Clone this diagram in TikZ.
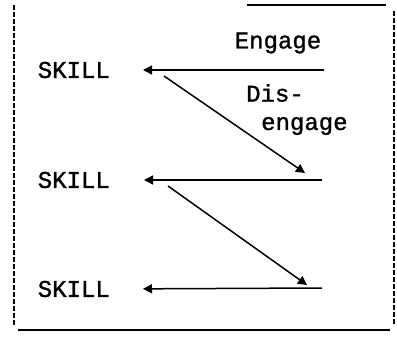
\documentclass[tikz,border=0pt]{standalone}
\usepackage{fontspec}
\newfontfamily\typefont{Liberation Mono}[FakeBold=1.2]
\usepackage{tikz}
\usetikzlibrary{arrows.meta}
\tikzstyle{label} = [inner sep=0pt, font=\typefont\fontsize{24}{26}\selectfont]
\tikzstyle{skill} = [label, anchor=east]
\tikzstyle{arrow} = [line width=1.5pt,-{Triangle[length=9pt,width=9pt]}]
\tikzstyle{frame} = [line width=1.7pt]

\begin{document}
\begin{tikzpicture}[x=1pt,y=-1pt]
\useasboundingbox (0,0) rectangle (397,337);

% outer frame: dashed sides, solid top and bottom
\draw [frame, dash pattern=on 5pt off 2pt] (14,5) -- (14,326);
\draw [frame, dash pattern=on 5pt off 2pt] (394,11) -- (394,325);
\draw [frame] (247,5) -- (386,5);
\draw [frame] (18,330) -- (390,330);

\node (skillA) [skill] at (110,70) {SKILL};
\node (skillB) [skill] at (110,180) {SKILL};
\node (skillC) [skill] at (110,289) {SKILL};

\coordinate (inA) at (324,70);
\coordinate (inB) at (322,180);
\coordinate (inC) at (322,288);

\draw [arrow, shorten >=33pt] (inA) -- (skillA.east);
\draw [arrow, shorten >=34pt] (inB) -- (skillB.east);
\draw [arrow, shorten >=33pt] (inC) -- (skillC.east);

\coordinate (outA) at (164,76);
\coordinate (outB) at (168,186);
\coordinate (dropB) at (305,173);
\coordinate (dropC) at (307,285);

\draw [arrow] (outA) -- (dropB);
\draw [arrow] (outB) -- (dropC);

\node (engage) [label] at (278,43) {Engage};
\node (dis) [label, anchor=west] at (246,93) {Dis-};
\node (disengage) [label, anchor=west] at (261,126) {engage};
\end{tikzpicture}
\end{document}
